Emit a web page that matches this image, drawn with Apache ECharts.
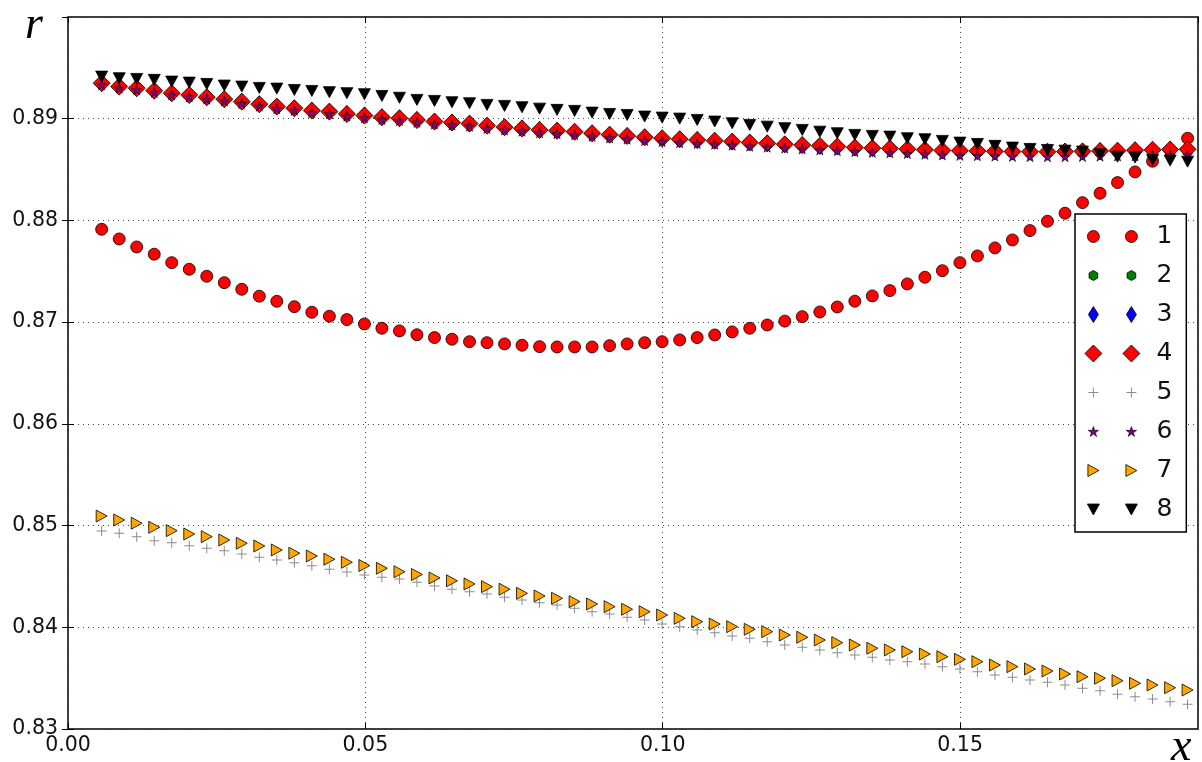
<!DOCTYPE html>
<html>
<head>
<meta charset="utf-8">
<script src="https://cdn.jsdelivr.net/npm/echarts@6/dist/echarts.min.js"></script>
<style>
  html, body { margin: 0; padding: 0; background: #fff; }
  #chart { width: 1202px; height: 762px; }
</style>
</head>
<body>
<div id="chart"></div>
<script>
// x positions of the samples
const xs = [0.00566, 0.00861, 0.01155, 0.01450, 0.01744, 0.02039, 0.02333, 0.02628, 0.02922, 0.03217,
    0.03511, 0.03806, 0.04100, 0.04395, 0.04689, 0.04984, 0.05278, 0.05573, 0.05867, 0.06162,
    0.06456, 0.06751, 0.07045, 0.07340, 0.07634, 0.07929, 0.08223, 0.08518, 0.08812, 0.09107,
    0.09401, 0.09696, 0.09990, 0.10285, 0.10579, 0.10874, 0.11168, 0.11463, 0.11757, 0.12052,
    0.12346, 0.12641, 0.12935, 0.13230, 0.13524, 0.13819, 0.14113, 0.14408, 0.14702, 0.14997,
    0.15291, 0.15586, 0.15880, 0.16175, 0.16469, 0.16764, 0.17058, 0.17353, 0.17647, 0.17942,
    0.18236, 0.18531, 0.18825];

// series 1 (red circles)
const r1 = [0.87913, 0.87818, 0.87739, 0.87668, 0.87585, 0.87520, 0.87451, 0.87388, 0.87323, 0.87255,
    0.87205, 0.87152, 0.87097, 0.87058, 0.87025, 0.86982, 0.86940, 0.86914, 0.86876, 0.86848,
    0.86832, 0.86808, 0.86798, 0.86786, 0.86773, 0.86759, 0.86756, 0.86756, 0.86756, 0.86769,
    0.86786, 0.86798, 0.86808, 0.86825, 0.86848, 0.86874, 0.86904, 0.86940, 0.86972, 0.87010,
    0.87054, 0.87100, 0.87149, 0.87206, 0.87258, 0.87310, 0.87376, 0.87441, 0.87506, 0.87585,
    0.87651, 0.87730, 0.87808, 0.87900, 0.87992, 0.88071, 0.88175, 0.88267, 0.88372, 0.88477,
    0.88582, 0.88693, 0.88808];

// series 2 (green hexagons) - hidden under the diamonds
const r2 = [0.89349, 0.89316, 0.89300, 0.89276, 0.89251, 0.89234, 0.89211, 0.89192, 0.89168, 0.89143,
    0.89119, 0.89103, 0.89080, 0.89070, 0.89047, 0.89031, 0.89015, 0.89005, 0.88988, 0.88972,
    0.88963, 0.88952, 0.88932, 0.88917, 0.88905, 0.88890, 0.88882, 0.88872, 0.88857, 0.88843,
    0.88831, 0.88818, 0.88808, 0.88798, 0.88791, 0.88784, 0.88775, 0.88766, 0.88758, 0.88748,
    0.88741, 0.88733, 0.88726, 0.88717, 0.88711, 0.88708, 0.88700, 0.88694, 0.88688, 0.88685,
    0.88683, 0.88679, 0.88677, 0.88676, 0.88676, 0.88677, 0.88679, 0.88683, 0.88686, 0.88690,
    0.88694, 0.88697, 0.88699];

// series 3 (blue thin diamonds)
const r3 = [0.89349, 0.89316, 0.89300, 0.89276, 0.89251, 0.89234, 0.89211, 0.89192, 0.89168, 0.89143,
    0.89119, 0.89103, 0.89080, 0.89070, 0.89047, 0.89031, 0.89015, 0.89005, 0.88988, 0.88972,
    0.88963, 0.88952, 0.88932, 0.88917, 0.88905, 0.88890, 0.88882, 0.88872, 0.88857, 0.88843,
    0.88831, 0.88818, 0.88808, 0.88798, 0.88791, 0.88784, 0.88775, 0.88766, 0.88758, 0.88748,
    0.88741, 0.88733, 0.88726, 0.88717, 0.88711, 0.88708, 0.88700, 0.88694, 0.88688, 0.88685,
    0.88683, 0.88679, 0.88677, 0.88676, 0.88676, 0.88677, 0.88679, 0.88683, 0.88686, 0.88690,
    0.88694, 0.88697, 0.88699];

// series 4 (red diamonds)
const r4 = [0.89349, 0.89316, 0.89300, 0.89276, 0.89251, 0.89234, 0.89211, 0.89192, 0.89168, 0.89143,
    0.89119, 0.89103, 0.89080, 0.89070, 0.89047, 0.89031, 0.89015, 0.89005, 0.88988, 0.88972,
    0.88963, 0.88952, 0.88932, 0.88917, 0.88905, 0.88890, 0.88882, 0.88872, 0.88857, 0.88843,
    0.88831, 0.88818, 0.88808, 0.88798, 0.88791, 0.88784, 0.88775, 0.88766, 0.88758, 0.88748,
    0.88741, 0.88733, 0.88726, 0.88717, 0.88711, 0.88708, 0.88700, 0.88694, 0.88688, 0.88685,
    0.88683, 0.88679, 0.88677, 0.88676, 0.88676, 0.88677, 0.88679, 0.88683, 0.88686, 0.88690,
    0.88694, 0.88697, 0.88699];

// series 5 (grey plus)
const r5 = [0.84947, 0.84924, 0.84891, 0.84852, 0.84832, 0.84802, 0.84777, 0.84753, 0.84721, 0.84688,
    0.84662, 0.84635, 0.84606, 0.84570, 0.84544, 0.84514, 0.84492, 0.84475, 0.84443, 0.84406,
    0.84374, 0.84350, 0.84327, 0.84295, 0.84268, 0.84242, 0.84219, 0.84187, 0.84153, 0.84131,
    0.84098, 0.84072, 0.84032, 0.84006, 0.83973, 0.83947, 0.83914, 0.83892, 0.83858, 0.83826,
    0.83803, 0.83777, 0.83750, 0.83728, 0.83705, 0.83678, 0.83662, 0.83639, 0.83613, 0.83590,
    0.83563, 0.83531, 0.83508, 0.83482, 0.83459, 0.83433, 0.83400, 0.83377, 0.83341, 0.83318,
    0.83295, 0.83268, 0.83243];

// series 6 (purple stars)
const r6 = [0.89334, 0.89300, 0.89284, 0.89259, 0.89234, 0.89216, 0.89193, 0.89173, 0.89149, 0.89123,
    0.89099, 0.89082, 0.89059, 0.89048, 0.89025, 0.89008, 0.88992, 0.88981, 0.88964, 0.88947,
    0.88937, 0.88926, 0.88905, 0.88889, 0.88877, 0.88861, 0.88852, 0.88842, 0.88826, 0.88811,
    0.88799, 0.88785, 0.88775, 0.88764, 0.88756, 0.88749, 0.88739, 0.88729, 0.88720, 0.88710,
    0.88702, 0.88693, 0.88686, 0.88676, 0.88669, 0.88665, 0.88657, 0.88650, 0.88643, 0.88639,
    0.88636, 0.88632, 0.88629, 0.88627, 0.88626, 0.88626, 0.88628, 0.88631, 0.88633, 0.88636,
    0.88640, 0.88642, 0.88643];

// series 7 (orange right triangles)
const r7 = [0.85094, 0.85055, 0.85023, 0.84983, 0.84950, 0.84917, 0.84891, 0.84858, 0.84826, 0.84799,
    0.84760, 0.84728, 0.84701, 0.84669, 0.84639, 0.84607, 0.84580, 0.84546, 0.84519, 0.84485,
    0.84457, 0.84426, 0.84399, 0.84374, 0.84334, 0.84308, 0.84285, 0.84252, 0.84229, 0.84203,
    0.84177, 0.84153, 0.84121, 0.84088, 0.84055, 0.84032, 0.84006, 0.83980, 0.83957, 0.83924,
    0.83902, 0.83875, 0.83849, 0.83826, 0.83794, 0.83777, 0.83760, 0.83737, 0.83711, 0.83685,
    0.83662, 0.83629, 0.83613, 0.83590, 0.83570, 0.83541, 0.83514, 0.83499, 0.83475, 0.83449,
    0.83433, 0.83406, 0.83383];

// series 8 (black down triangles)
const r8 = [0.89414, 0.89398, 0.89391, 0.89382, 0.89365, 0.89355, 0.89342, 0.89326, 0.89316, 0.89303,
    0.89296, 0.89283, 0.89273, 0.89261, 0.89251, 0.89241, 0.89224, 0.89206, 0.89185, 0.89175,
    0.89162, 0.89152, 0.89136, 0.89126, 0.89113, 0.89099, 0.89087, 0.89077, 0.89060, 0.89047,
    0.89037, 0.89021, 0.89011, 0.89001, 0.88988, 0.88972, 0.88956, 0.88939, 0.88922, 0.88907,
    0.88890, 0.88873, 0.88857, 0.88841, 0.88831, 0.88824, 0.88808, 0.88798, 0.88782, 0.88765,
    0.88752, 0.88733, 0.88716, 0.88703, 0.88693, 0.88686, 0.88677, 0.88651, 0.88627, 0.88618,
    0.88595, 0.88588, 0.88578];

const seriesNames = ['1', '2', '3', '4', '5', '6', '7', '8'];
const xTicks = [0, 0.05, 0.10, 0.15];
const yTicks = [0.83, 0.84, 0.85, 0.86, 0.87, 0.88, 0.89];

// marker shapes (single) for the plot
const HEX = 'path://M10 0L18.66 5L18.66 15L10 20L1.34 15L1.34 5Z';
const PLUS = 'path://M9 0h2v20h-2zM0 9h20v2h-20z';
const STAR = 'path://M10 0L12.24 6.91L19.51 6.91L13.63 11.18L15.88 18.09L10 13.82L4.12 18.09L6.37 11.18L0.49 6.91L7.76 6.91Z';
const TRI_R = 'path://M0 0L20 10L0 20Z';
const TRI_D = 'path://M0 0L20 0L10 20Z';

// legend icons: two markers side by side, in a 58x20 box
function pair(d) {
    const shift = d.replace(/(-?\d+(\.\d+)?) (-?\d+(\.\d+)?)/g, (m, a, b1, c) => (parseFloat(a) + 38).toFixed(2) + ' ' + c);
    return 'path://M0 0h0M58 20h0' + d + shift;
}
const legendIcons = [
    'path://M0 0h0M58 20h0M4 10a6 6 0 1 0 12 0a6 6 0 1 0 -12 0M42 10a6 6 0 1 0 12 0a6 6 0 1 0 -12 0',
    pair('M10 5L14.33 7.5L14.33 12.5L10 15L5.67 12.5L5.67 7.5Z'),
    pair('M10 2L15 10L10 18L5 10Z'),
    pair('M10 1.5L18.5 10L10 18.5L1.5 10Z'),
    'path://M0 0h0M58 20h0M9.5 5h1v10h-1zM5 9.5h10v1h-10zM47.5 5h1v10h-1zM43 9.5h10v1h-10z',
    pair('M10 5L11.23 8.8L15.23 8.8L11.99 11.15L13.23 14.95L10 12.6L6.77 14.95L8.01 11.15L4.77 8.8L8.77 8.8Z'),
    pair('M4.5 4L15.5 10L4.5 16Z'),
    pair('M4 4.5L16 4.5L10 15.5Z')
];

const styles = [
    { values: r1, symbol: 'circle', size: 12, color: '#ff0000', border: 0.8 },
    { values: r2, symbol: HEX, size: [9, 10], color: '#007f00', border: 0.8 },
    { values: r3, symbol: 'diamond', size: [10, 16], color: '#0000ff', border: 0.8 },
    { values: r4, symbol: 'diamond', size: [17, 17], color: '#ff0000', border: 0.8 },
    { values: r5, symbol: PLUS, size: 10, color: '#8c8c8c', border: 0 },
    { values: r6, symbol: STAR, size: 10, color: '#800080', border: 0.6 },
    { values: r7, symbol: TRI_R, size: [11, 12], color: '#ffa500', border: 0.8 },
    { values: r8, symbol: TRI_D, size: [12, 11], color: '#000000', border: 0.8 }
];

const series = styles.map((s, k) => ({
    name: seriesNames[k],
    type: 'scatter',
    symbol: s.symbol,
    symbolSize: s.size,
    itemStyle: { color: s.color, borderColor: '#000', borderWidth: s.border, opacity: 1 },
    emphasis: { disabled: true },
    data: xs.map((x, i) => [x, s.values[i]])
}));

const tickFont = { fontFamily: 'DejaVu Sans', fontSize: 20.5, color: '#111' };

const chart = echarts.init(document.getElementById('chart'), null, { renderer: 'canvas' });
chart.setOption({
    animation: false,
    backgroundColor: '#fff',
    grid: { left: 68, right: 4, top: 17, bottom: 33, show: true, borderColor: '#000', borderWidth: 1.5, backgroundColor: 'transparent' },
    xAxis: [{
        type: 'value', min: 0, max: 0.19, interval: 0.05,
        axisLine: { show: false },
        axisTick: { inside: true, length: 6, lineStyle: { color: '#000' } },
        axisLabel: { ...tickFont, margin: 6, showMaxLabel: false, formatter: v => xTicks.some(t => Math.abs(t - v) < 1e-9) ? v.toFixed(2) : '' },
        splitLine: { lineStyle: { color: '#444', width: 1, type: [1, 4] } }
    }, {
        type: 'value', position: 'top', min: 0, max: 0.19, interval: 0.05,
        axisLine: { show: false },
        axisTick: { inside: true, length: 6, lineStyle: { color: '#000' } },
        axisLabel: { show: false },
        splitLine: { show: false }
    }],
    yAxis: [{
        type: 'value', min: 0.83, max: 0.90, interval: 0.01,
        axisLine: { show: false },
        axisTick: { inside: true, length: 6, lineStyle: { color: '#000' } },
        axisLabel: { ...tickFont, margin: 10, showMaxLabel: false, formatter: v => yTicks.some(t => Math.abs(t - v) < 1e-9) ? v.toFixed(2) : '' },
        splitLine: { lineStyle: { color: '#444', width: 1, type: [1, 4] } }
    }, {
        type: 'value', position: 'right', min: 0.83, max: 0.90, interval: 0.01,
        axisLine: { show: false },
        axisTick: { inside: true, length: 6, lineStyle: { color: '#000' } },
        axisLabel: { show: false },
        splitLine: { show: false }
    }],
    legend: {
        orient: 'vertical',
        left: 1075, top: 214,
        padding: [10, 14, 10, 8],
        itemWidth: 58, itemHeight: 20, itemGap: 14,
        selectedMode: false,
        backgroundColor: '#fff',
        borderColor: '#000', borderWidth: 1.5, borderRadius: 0,
        textStyle: { fontFamily: 'DejaVu Sans', fontSize: 25, color: '#111', padding: [0, 0, 0, 10] },
        data: seriesNames.map((n, k) => ({
            name: n,
            icon: legendIcons[k],
            itemStyle: { borderWidth: styles[k].border, borderColor: '#000' }
        }))
    },
    graphic: [
        { type: 'text', left: 25, top: 3, style: { text: 'r', font: 'italic 46px "Liberation Serif"', fill: '#000' } },
        { type: 'text', left: 1171, top: 725, style: { text: 'x', font: 'italic 46px "Liberation Serif"', fill: '#000' } }
    ],
    series: series
});
</script>
</body>
</html>
